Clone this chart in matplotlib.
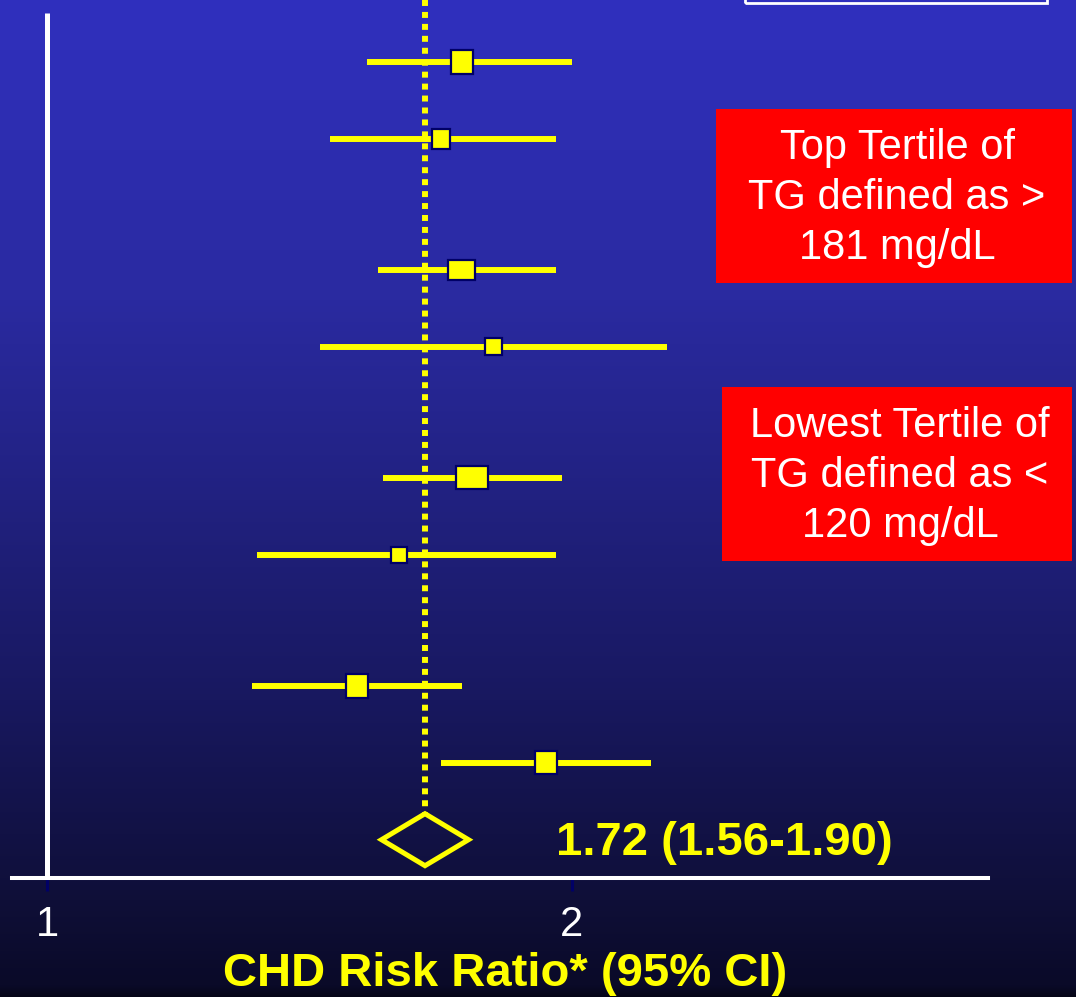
import matplotlib.pyplot as plt
import numpy as np
from matplotlib.patches import Rectangle, Polygon

plt.rcParams['font.family'] = ['Liberation Sans', 'DejaVu Sans']

# Risk ratios and 95% CI for each study
rr = [1.79, 1.75, 1.79, 1.85, 1.81, 1.67, 1.59, 1.95]
ci_lo = [1.61, 1.54, 1.63, 1.52, 1.64, 1.40, 1.39, 1.75]
ci_hi = [2.00, 1.97, 1.97, 2.18, 1.98, 1.97, 1.79, 2.15]

# pooled estimate
pooled = 1.72
pooled_lo = 1.56
pooled_hi = 1.90

xticks = [1, 2]
xlabel = 'CHD Risk Ratio* (95% CI)'
box_top = 'Top Tertile of\nTG defined as >\n181 mg/dL'
box_low = 'Lowest Tertile of\nTG defined as <\n120 mg/dL'

# row layout (rows come in pairs) and marker box sizes in pixels
row_y = [0, 1, 2.7, 3.7, 5.4, 6.4, 8.1, 9.1]
pooled_y = 10.1
box_px = [(22, 24), (18, 20), (27, 20), (17, 17), (32, 23), (16, 16), (22, 24), (22, 23)]

W, H = 1076, 997
PX_X = 525.0   # pixels per unit of risk ratio
PX_Y = 77.0    # pixels per row unit
fig = plt.figure(figsize=(W / 100, H / 100), dpi=100)

# background gradient
bg = fig.add_axes([0, 0, 1, 1])
stops_y = [0, 300, 500, 700, 900, 985, 997]
stops_c = np.array([(48, 48, 190), (42, 42, 160), (33, 33, 128), (24, 24, 95),
                    (15, 15, 56), (10, 10, 40), (5, 5, 22)]) / 255.0
yy = np.arange(H)
grad = np.stack([np.interp(yy, stops_y, stops_c[:, k]) for k in range(3)], axis=-1)
bg.imshow(grad[:, None, :], aspect='auto', extent=[0, 1, 1, 0])
bg.set_xlim(0, 1)
bg.set_ylim(1, 0)
bg.axis('off')

# plotting axes: bottom spine is the x axis line
left, right, bottom_px = 12, 988, 878
ax = fig.add_axes([left / W, (H - bottom_px) / H, (right - left) / W, bottom_px / H])
ax.set_facecolor('none')
ax.set_xlim(1 - (47 - left) / PX_X, 1 + (right - 47) / PX_X)
ax.set_ylim((bottom_px - 62) / PX_Y, -62 / PX_Y)

for s in ['top', 'right', 'left']:
    ax.spines[s].set_visible(False)
ax.spines['bottom'].set_color('white')
ax.spines['bottom'].set_linewidth(2.9)
ax.set_yticks([])
ax.set_xticks(xticks)
ax.set_xticklabels([str(t) for t in xticks])
ax.tick_params(axis='x', colors='#000066', length=9.5, width=2.2, pad=10,
               labelcolor='white', labelsize=30)
ax.set_xlabel(xlabel, color='#ffff00', fontsize=34, fontweight='bold')
ax.xaxis.set_label_coords((505 - left) / (right - left), -(974 - bottom_px) / bottom_px)
ax.xaxis.label.set_va('center')

# vertical reference line at RR = 1
ax.plot([1, 1], [(13 - 62) / PX_Y, ax.get_ylim()[0]], color='white', lw=3.6,
        solid_capstyle='butt', clip_on=False, zorder=2)

# dotted line at the pooled estimate
diamond_hh = 26 / PX_Y
ax.plot([pooled, pooled], [-62 / PX_Y, pooled_y - diamond_hh], color='#ffff00',
        lw=4.3, linestyle=(0, (1, 1)), clip_on=False, zorder=3)

# confidence intervals and point estimates
for y, m, lo, hi, (bw, bh) in zip(row_y, rr, ci_lo, ci_hi, box_px):
    ax.plot([lo, hi], [y, y], color='#ffff00', lw=4.3, solid_capstyle='butt', zorder=4)
    w, h = bw / PX_X, bh / PX_Y
    ax.add_patch(Rectangle((m - w / 2, y - h / 2), w, h, facecolor='#ffff00',
                           edgecolor='#000066', lw=1.6, zorder=5))

# pooled diamond
dw = 43.5 / PX_X
ax.add_patch(Polygon([(pooled - dw, pooled_y), (pooled, pooled_y - diamond_hh),
                      (pooled + dw, pooled_y), (pooled, pooled_y + diamond_hh)],
                     closed=True, facecolor='none', edgecolor='#ffff00', lw=3.6,
                     joinstyle='miter', zorder=5))
ax.text(1 + (556 - 47) / PX_X, pooled_y + 0.04,
        f'{pooled:.2f} ({pooled_lo:.2f}-{pooled_hi:.2f})',
        color='#ffff00', fontsize=34, fontweight='bold', va='center', ha='left')

# red annotation boxes
def red_box(x0, y0, x1, y1, text):
    fig.patches.append(Rectangle((x0 / W, 1 - y1 / H), (x1 - x0) / W, (y1 - y0) / H,
                                 transform=fig.transFigure, facecolor='#ff0000',
                                 edgecolor='none', zorder=6))
    fig.text((x0 + x1) / 2 / W + 3 / W, 1 - ((y0 + y1) / 2 + 2) / H, text, color='white',
             fontsize=30, ha='center', va='center', linespacing=1.32, zorder=7)

red_box(716, 109, 1072, 283, box_top)
red_box(722, 387, 1072, 561, box_low)

# white frame cut off at the top edge
fig.patches.append(Rectangle((745 / W, 1 - 3 / H), 302 / W, 20 / H,
                             transform=fig.transFigure, facecolor='none',
                             edgecolor='white', lw=2, zorder=6))

fig.savefig('out.png', dpi=100)
